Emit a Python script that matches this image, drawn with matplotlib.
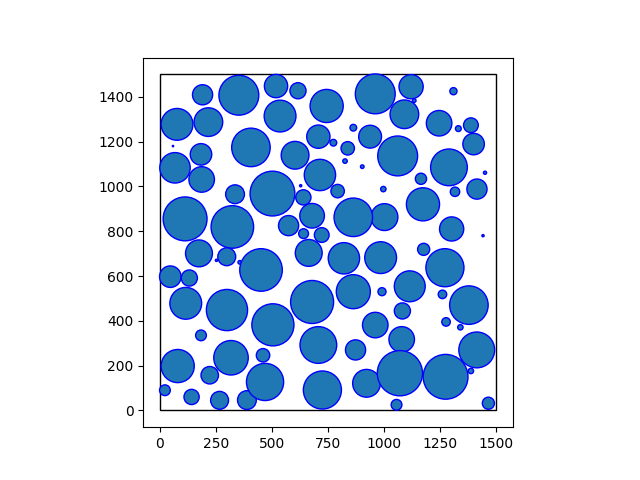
import matplotlib
matplotlib.use("Agg")
import matplotlib.pyplot as plt
from matplotlib.patches import Circle, Rectangle

box_size = 1500

cx = [190, 352, 76, 216, 406, 58, 183, 67, 186,
      518, 616, 744, 961, 536, 707, 774, 863, 938, 838, 826, 903, 603, 714, 628,
      1121, 1091, 1135, 1310, 1246, 1332, 1388, 1400, 1061, 1290, 1451, 1165,
      1317, 1415, 1174, 1002, 1302, 1442, 1177, 1272, 1115, 1261,
      502, 335, 112, 323, 174, 298, 252, 356, 451, 46, 131,
      793, 997, 640, 679, 863, 574, 641, 722, 664, 821, 985, 679, 863, 991,
      115, 299, 183, 79, 317, 460, 222, 22, 141, 266, 388, 469,
      504, 961, 707, 873, 725, 922,
      1379, 1082, 1277, 1341, 1079, 1414, 1071, 1275, 1388, 1056, 1466]
cy = [1409, 1407, 1277, 1287, 1174, 1180, 1143, 1083, 1031,
      1448, 1427, 1359, 1413, 1314, 1222, 1195, 1262, 1222, 1170, 1113, 1088, 1139, 1051, 1003,
      1445, 1322, 1383, 1425, 1282, 1258, 1273, 1189, 1136, 1085, 1061, 1034,
      976, 988, 920, 863, 810, 780, 719, 637, 554, 518,
      968, 965, 855, 819, 701, 686, 670, 661, 627, 597, 591,
      979, 988, 951, 869, 862, 825, 789, 783, 703, 679, 682, 484, 530, 530,
      478, 448, 335, 198, 235, 246, 157, 90, 60, 45, 46, 127,
      382, 381, 292, 270, 91, 121,
      470, 444, 395, 371, 317, 270, 166, 150, 176, 25, 32]
radius = [45, 89, 71, 64, 86, 3, 48, 68, 57,
          52, 36, 74, 89, 71, 52, 15, 15, 51, 30, 10, 8, 62, 70, 5,
          54, 64, 8, 16, 57, 13, 33, 48, 89, 82, 7, 25,
          21, 45, 74, 60, 54, 5, 27, 85, 69, 19,
          100, 42, 98, 95, 60, 40, 5, 8, 95, 48, 36,
          30, 12, 34, 55, 86, 45, 22, 33, 60, 70, 71, 96, 76, 18,
          71, 92, 24, 74, 77, 30, 39, 24, 34, 40, 42, 83,
          94, 57, 82, 45, 85, 62,
          86, 36, 19, 12, 57, 80, 101, 100, 12, 24, 27]

fig, ax = plt.subplots(figsize=(6.4, 4.8), dpi=100)
ax.add_patch(Rectangle((0, 0), box_size, box_size, fill=False, edgecolor='black', linewidth=1))
for x, y, r in zip(cx, cy, radius):
    ax.add_patch(Circle((x, y), r, facecolor='#1f77b4', edgecolor='blue', linewidth=1))

ax.set_xlim(-75, 1575)
ax.set_ylim(-75, 1575)
ax.set_aspect('equal')
ax.set_xticks([0, 250, 500, 750, 1000, 1250, 1500])
ax.set_yticks([0, 200, 400, 600, 800, 1000, 1200, 1400])
fig.savefig("out.png", dpi=100)
